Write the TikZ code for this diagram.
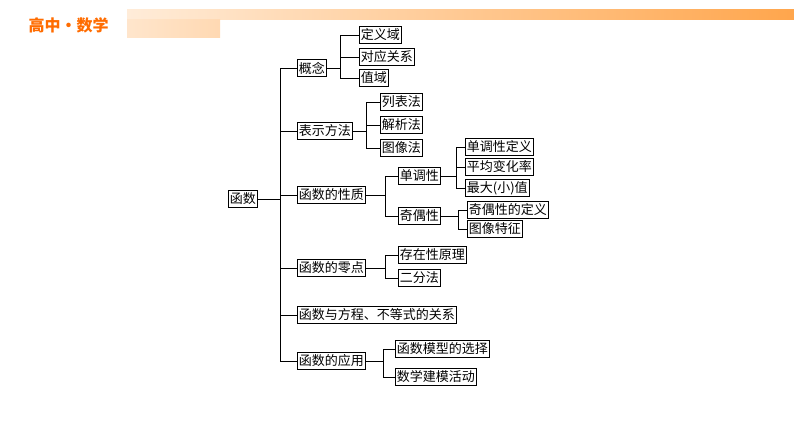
\documentclass[tikz,border=0pt]{standalone}
\usepackage{fontspec}
\newfontfamily\cjk{Noto Sans CJK SC}
\begin{document}
\begin{tikzpicture}[x=1pt,y=-1pt,
 bx/.style={draw,line width=0.8pt,anchor=west,inner xsep=1.5pt,inner ysep=0pt,minimum height=17pt,font=\cjk\fontsize{13}{14}\selectfont,fill=white},
 ln/.style={line width=0.8pt}]
\useasboundingbox (0,0) rectangle (794,446);
\fill[white] (0,0) rectangle (794,446);
\shade[left color=orange!15,right color=orange!70] (127,10) rectangle (794,20);
\shade[left color=orange!20,right color=orange!30] (127,20) rectangle (220,38);
\node[font=\cjk\bfseries\fontsize{16}{18}\selectfont,text=orange!85!red,anchor=west] (title) at (25,25) {高中·数学};
\newcommand\bxn[4]{\node[bx] (#1) at (#2,#3) {#4};}
\bxn{f}{228}{199}{函数}
\bxn{a}{297}{68}{概念}
\bxn{a1}{359}{35}{定义域}
\bxn{a2}{359}{57}{对应关系}
\bxn{a3}{359}{78}{值域}
\bxn{b}{297}{131}{表示方法}
\bxn{b1}{380}{102}{列表法}
\bxn{b2}{380}{125}{解析法}
\bxn{b3}{380}{148}{图像法}
\bxn{c}{297}{195}{函数的性质}
\bxn{c1}{398}{176}{单调性}
\bxn{c11}{465}{147}{单调性定义}
\bxn{c12}{465}{167}{平均变化率}
\bxn{c13}{465}{188}{最大(小)值}
\bxn{c2}{398}{216}{奇偶性}
\bxn{c21}{467}{210}{奇偶性的定义}
\bxn{c22}{467}{229}{图像特征}
\bxn{d}{297}{268}{函数的零点}
\bxn{d1}{398}{255}{存在性原理}
\bxn{d2}{398}{278}{二分法}
\bxn{e}{297}{315}{函数与方程、不等式的关系}
\bxn{g}{297}{361}{函数的应用}
\bxn{g1}{395}{349}{函数模型的选择}
\bxn{g2}{395}{377}{数学建模活动}
\newcommand\tree[3]{\foreach \ch in {#3} {\draw[ln] (#1.east) -- (#2,0 |- #1.east) |- (\ch.west);}}
\tree{f}{280}{a,b,c,d,e,g}
\tree{a}{340}{a1,a2,a3}
\tree{b}{366}{b1,b2,b3}
\tree{c}{385}{c1,c2}
\tree{c1}{456}{c11,c12,c13}
\tree{c2}{458}{c21,c22}
\tree{d}{385}{d1,d2}
\tree{g}{383}{g1,g2}
\end{tikzpicture}
\end{document}
